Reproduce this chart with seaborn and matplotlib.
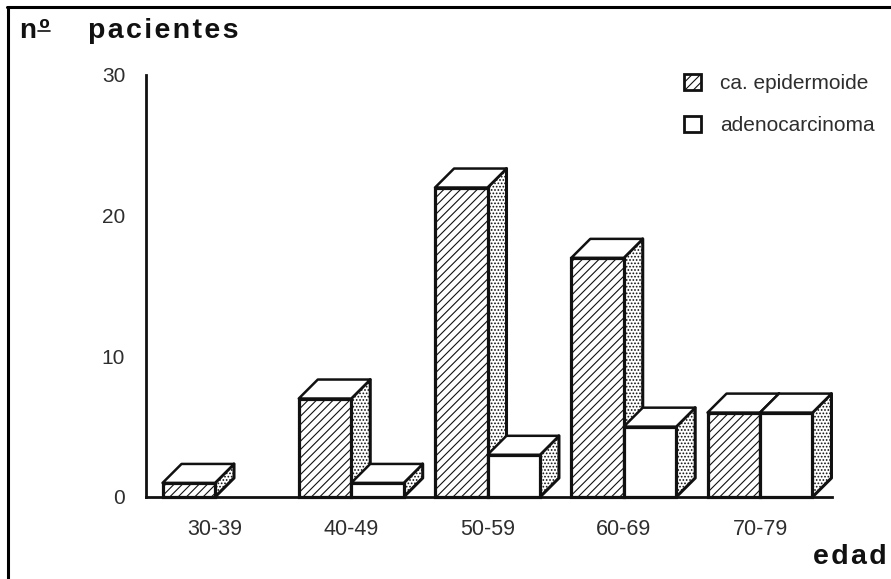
import matplotlib
matplotlib.use("Agg")
import matplotlib.pyplot as plt
import seaborn as sns
import pandas as pd
from matplotlib.lines import Line2D
from matplotlib.patches import Polygon, Patch

W, H = 891, 579
groups = ["30-39", "40-49", "50-59", "60-69", "70-79"]
epidermoide = [1, 7, 22, 17, 6]
adeno = [0, 1, 3, 5, 6]
series_names = ["ca. epidermoide", "adenocarcinoma"]
y_ticks = [0, 10, 20, 30]

sns.set_theme(style="white")
plt.rcParams["font.family"] = ["Liberation Sans", "DejaVu Sans"]
plt.rcParams["hatch.linewidth"] = 0.8
INK = "#111111"
GREY = "#2e2e2e"

df = pd.DataFrame({
    "edad": groups * 2,
    "n": epidermoide + adeno,
    "tipo": [series_names[0]] * 5 + [series_names[1]] * 5,
})

fig = plt.figure(figsize=(W / 100, H / 100), dpi=100, facecolor="white")
L, R, T, B = 146, 880, 75, 497
ax = fig.add_axes([L / W, 1 - B / H, (R - L) / W, (B - T) / H])
sns.barplot(data=df, x="edad", y="n", hue="tipo", hue_order=series_names, order=groups,
            palette=["white", "white"], width=0.77, gap=0, dodge=True, saturation=1,
            edgecolor=INK, linewidth=2.3, legend=False, ax=ax)

pitch = 136.25
ax.set_xlim((L - 215) / pitch, (R - 215) / pitch)
ax.set_ylim(0, 30)
dx = 19 / pitch
dy = 19 / ((B - T) / 30)

for order, (cont, hatch) in enumerate(zip(ax.containers, ["////", None])):
    for i, bar in enumerate(cont):
        base = 3 * (i * 2 + order) + 3
        if bar.get_height() == 0:
            bar.set_visible(False)
            continue
        x0, w, h = bar.get_x(), bar.get_width(), bar.get_height()
        x1 = x0 + w
        bar.set_zorder(base + 2)
        bar.set_clip_on(False)
        if hatch:
            bar.set_hatch(hatch)
        ax.add_patch(Polygon([(x1, 0), (x1 + dx, dy), (x1 + dx, h + dy), (x1, h)],
                             facecolor="white", edgecolor=INK, linewidth=2.2, hatch=".....",
                             zorder=base, joinstyle="round"))
        ax.add_patch(Polygon([(x0, h), (x0 + dx, h + dy), (x1 + dx, h + dy), (x1, h)],
                             facecolor="white", edgecolor=INK, linewidth=1.8,
                             zorder=base + 1, joinstyle="round"))

sns.despine(ax=ax)
for side in ["left", "bottom"]:
    ax.spines[side].set_linewidth(2)
    ax.spines[side].set_color(INK)
    ax.spines[side].set_zorder(50)
ax.spines["bottom"].set_bounds(ax.get_xlim()[0], (832 - 215) / pitch)
ax.set_yticks(y_ticks)
ax.tick_params(axis="both", length=0, labelsize=15, labelcolor=GREY)
ax.tick_params(axis="x", labelsize=15.5, pad=15.5)
ax.tick_params(axis="y", pad=15)
ax.set_xlabel("")
ax.set_ylabel("")

handles = [Patch(facecolor="white", edgecolor=INK, linewidth=2, hatch="////"),
           Patch(facecolor="white", edgecolor=INK, linewidth=2)]
leg = ax.legend(handles, series_names, loc="upper left",
                bbox_to_anchor=((684 - L) / (R - L), 1.003), frameon=False, fontsize=15,
                handlelength=0.8, handleheight=0.8, handletextpad=0.92, labelspacing=1.12,
                borderpad=0, borderaxespad=0, labelcolor=GREY)

# Frame of the scanned page: only the top and left rules are present
fig.add_artist(Line2D([7.5 / W, 7.5 / W], [0, 1 - 6.5 / H], color="black", linewidth=2.2,
                      transform=fig.transFigure))
fig.add_artist(Line2D([6.5 / W, 1], [1 - 6.5 / H, 1 - 6.5 / H], color="black", linewidth=2.2,
                      transform=fig.transFigure))

fig.text(20 / W, 1 - 38 / H, "n\u200aº", fontsize=20, fontweight="bold", color=INK,
         va="baseline", ha="left")
fig.add_artist(Line2D([38 / W, 50 / W], [1 - 30.5 / H, 1 - 30.5 / H], color=INK, linewidth=1.2,
                      transform=fig.transFigure))
fig.text(88 / W, 1 - 38 / H, "p\u200aa\u200ac\u200ai\u200ae\u200an\u200at\u200ae\u200as",
         fontsize=20.5, fontweight="bold", color=INK, va="baseline", ha="left")
fig.text(813 / W, 1 - 564 / H, "e\u200ad\u200aa\u200ad", fontsize=20.5, fontweight="bold",
         color=INK, va="baseline", ha="left")

fig.savefig("out.png", dpi=100)
